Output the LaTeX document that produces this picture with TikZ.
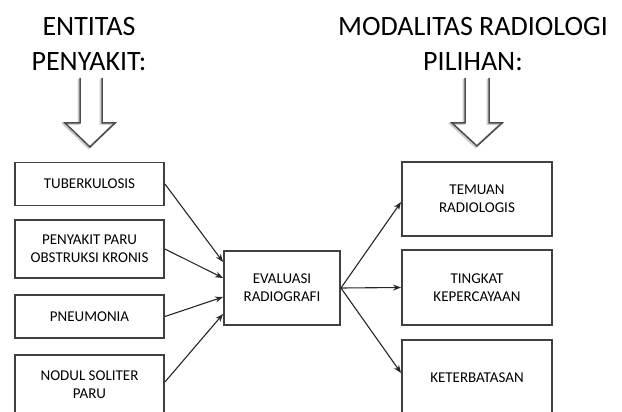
\documentclass[tikz,border=0pt]{standalone}
\usepackage{fontspec}
\setmainfont{Carlito}
\usetikzlibrary{arrows.meta}
\tikzset{
  box/.style={draw=black!75, line width=1.9pt, align=center, inner sep=0pt,
    font=\fontsize{15}{18}\selectfont, text=black},
  lbox/.style={box, minimum width=149pt},
  rbox/.style={box, minimum width=150pt},
  title/.style={align=center, font=\fontsize{28}{35}\selectfont, inner sep=0pt},
  conn/.style={draw=black!85, line width=1.1pt, -{Stealth[length=8pt,width=6pt]}},
  hollow/.style={draw=black!70, line width=1.5pt, line join=miter},
  hshadow/.style={draw=black!20, line width=2pt, line join=miter}
}
\begin{document}
\begin{tikzpicture}[x=1pt,y=-1pt]
\useasboundingbox (0,0) rectangle (622,412);
\clip (0,0) rectangle (622,412);
% titles
\node[title] (t1) at (89,44) {ENTITAS\\PENYAKIT:};
\node[title] (t2) at (473,44) {MODALITAS RADIOLOGI\\PILIHAN:};
% hollow arrows
\draw[hshadow] (78.5,79)--(78.5,124)--(63.5,124)--(88.5,148)--(113.5,124)--(100.5,124)--(100.5,79);
\draw[hollow] (80,78)--(80,123)--(65,123)--(90,147)--(115,123)--(102,123)--(102,78);
\draw[hshadow] (463.5,79)--(463.5,124)--(450.5,124)--(475.5,147)--(500.5,124)--(487.5,124)--(487.5,79);
\draw[hollow] (465,78)--(465,123)--(452,123)--(477,146)--(502,123)--(489,123)--(489,78);
% left boxes
\node[lbox, minimum height=43pt] (tb) at (89.5,184) {TUBERKULOSIS};
\node[lbox, minimum height=58pt] (pp) at (89.5,249) {PENYAKIT PARU\\OBSTRUKSI KRONIS};
\node[lbox, minimum height=43pt] (pn) at (89.5,316.5) {PNEUMONIA};
\node[lbox, minimum height=60pt] (ns) at (89.5,385) {NODUL SOLITER\\PARU};
% center
\node[box, minimum width=116pt, minimum height=74pt] (ev) at (282,288) {EVALUASI\\RADIOGRAFI};
% right boxes
\node[rbox, minimum height=74pt] (tm) at (477,199) {TEMUAN\\RADIOLOGIS};
\node[rbox, minimum height=75pt] (tk) at (477,287.5) {TINGKAT\\KEPERCAYAAN};
\node[rbox, minimum height=76pt] (kt) at (477,378) {KETERBATASAN};
% connectors
\draw[conn] (tb.east) -- ([yshift=26pt]ev.west);
\draw[conn] (pp.east) -- ([yshift=10pt]ev.west);
\draw[conn] (pn.east) -- ([yshift=-9pt]ev.west);
\draw[conn] ([yshift=3pt]ns.east) -- ([yshift=-26pt]ev.west);
\draw[conn] (ev.east) -- ([yshift=-3pt]tm.west);
\draw[conn] (ev.east) -- (tk.west);
\draw[conn] (ev.east) -- ([yshift=5pt]kt.west);
\end{tikzpicture}
\end{document}
